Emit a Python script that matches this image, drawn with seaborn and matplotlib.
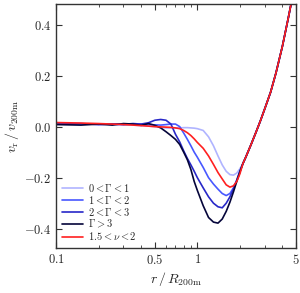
import numpy as np
import pandas as pd
import matplotlib
matplotlib.use("Agg")
import matplotlib.pyplot as plt
import seaborn as sns
from matplotlib.ticker import FixedLocator, FixedFormatter, LogLocator, NullFormatter

sns.set_style("ticks")
plt.rcParams["mathtext.fontset"] = "cm"
plt.rcParams["font.family"] = ["DejaVu Serif"]

# ---- data ----
x_left = [0.1, 0.15, 0.2, 0.25, 0.3, 0.35, 0.4, 0.45, 0.5, 0.55, 0.6, 0.65,
          0.7, 0.75, 0.8, 0.85, 0.9, 0.95, 1.0, 1.1, 1.2, 1.3, 1.4, 1.5,
          1.6, 1.7, 1.8, 1.9, 2.0]
x_tail = [2.1, 2.2, 2.4, 2.6, 2.8, 3.0, 3.3, 3.6, 4.0, 4.4, 4.8, 5.0]
y_tail = [-0.145, -0.12, -0.07, -0.022, 0.024, 0.07, 0.135, 0.21, 0.315, 0.425, 0.53, 0.585]

y_g01 = [0.010, 0.010, 0.009, 0.008, 0.007, 0.006, 0.004, 0.002, 0.000, -0.003, -0.005, -0.005,
         -0.005, -0.005, -0.004, -0.004, -0.005, -0.006, -0.008, -0.015, -0.040, -0.075, -0.115, -0.150,
         -0.175, -0.188, -0.190, -0.182, -0.165]
y_g12 = [0.010, 0.011, 0.009, 0.010, 0.008, 0.010, 0.009, 0.008, 0.007, 0.006, 0.008, 0.010,
         0.010, 0.000, -0.025, -0.050, -0.075, -0.100, -0.120, -0.160, -0.200, -0.225, -0.245, -0.262,
         -0.270, -0.262, -0.240, -0.210, -0.175]
y_g23 = [0.010, 0.012, 0.008, 0.011, 0.009, 0.012, 0.010, 0.015, 0.025, 0.028, 0.025, 0.010,
         -0.030, -0.060, -0.095, -0.125, -0.150, -0.175, -0.200, -0.240, -0.275, -0.300, -0.314, -0.318,
         -0.300, -0.275, -0.245, -0.210, -0.175]
y_g3 = [0.008, 0.006, 0.010, 0.006, 0.012, 0.010, 0.005, 0.012, 0.005, -0.005, -0.020, -0.035,
        -0.050, -0.070, -0.100, -0.130, -0.168, -0.215, -0.250, -0.310, -0.356, -0.374, -0.378, -0.362,
        -0.332, -0.296, -0.256, -0.215, -0.178]
y_nu = [0.016, 0.014, 0.012, 0.010, 0.008, 0.006, 0.004, 0.002, 0.000, -0.001, -0.002, -0.003,
        -0.005, -0.008, -0.015, -0.024, -0.035, -0.048, -0.062, -0.085, -0.115, -0.148, -0.180, -0.205,
        -0.228, -0.237, -0.232, -0.215, -0.185]

labels = [r"$0 < \Gamma < 1$", r"$1 < \Gamma < 2$", r"$2 < \Gamma < 3$",
          r"$\Gamma > 3$", r"$1.5 < \nu < 2$"]
series = [y_g01, y_g12, y_g23, y_g3, y_nu]
colors = ["#b0b4ff", "#4858ff", "#2828c8", "#05053a", "#ff2020"]

x_ticks = [0.1, 0.5, 1, 5]
x_ticklabels = ["$0.1$", "$0.5$", "$1$", "$5$"]
y_ticks = [-0.4, -0.2, 0.0, 0.2, 0.4]
y_ticklabels = ["$-0.4$", "$-0.2$", "$0.0$", "$0.2$", "$0.4$"]

fig = plt.figure(figsize=(3.0, 2.93), dpi=100)
ax = fig.add_axes([0.187, 0.154, 0.8, 0.832])

xs = x_left + x_tail
for ys, lab, col in zip(series, labels, colors):
    df = pd.DataFrame({"x": xs, "y": ys + y_tail})
    sns.lineplot(data=df, x="x", y="y", color=col, label=lab, lw=1.2,
                 sort=False, estimator=None, ax=ax)

ax.set_xscale("log")
ax.set_xlim(0.1, 5)
ax.set_ylim(-0.475, 0.48)
ax.xaxis.set_major_locator(FixedLocator(x_ticks))
ax.xaxis.set_major_formatter(FixedFormatter(x_ticklabels))
ax.xaxis.set_minor_locator(LogLocator(base=10, subs=np.arange(2, 10)))
ax.xaxis.set_minor_formatter(NullFormatter())
ax.yaxis.set_major_locator(FixedLocator(y_ticks))
ax.yaxis.set_major_formatter(FixedFormatter(y_ticklabels))
ax.tick_params(which="both", direction="in", top=True, right=True, labelsize=9,
               color="#333333")
ax.tick_params(which="major", length=4, width=0.8)
ax.tick_params(which="minor", length=2, width=0.6)
for s in ax.spines.values():
    s.set_linewidth(1.0)
    s.set_color("#333333")

ax.set_xlabel(r"$r\,/\,R_{\rm 200m}$", fontsize=10, labelpad=2)
ax.set_ylabel(r"$v_{\rm r}\,/\,v_{\rm 200m}$", fontsize=10, labelpad=2)

leg = ax.legend(loc="lower left", frameon=False, fontsize=7.5, handlelength=2.0,
                labelspacing=0.0, handletextpad=0.5, borderaxespad=0.15)

fig.savefig("out.png", dpi=100)
